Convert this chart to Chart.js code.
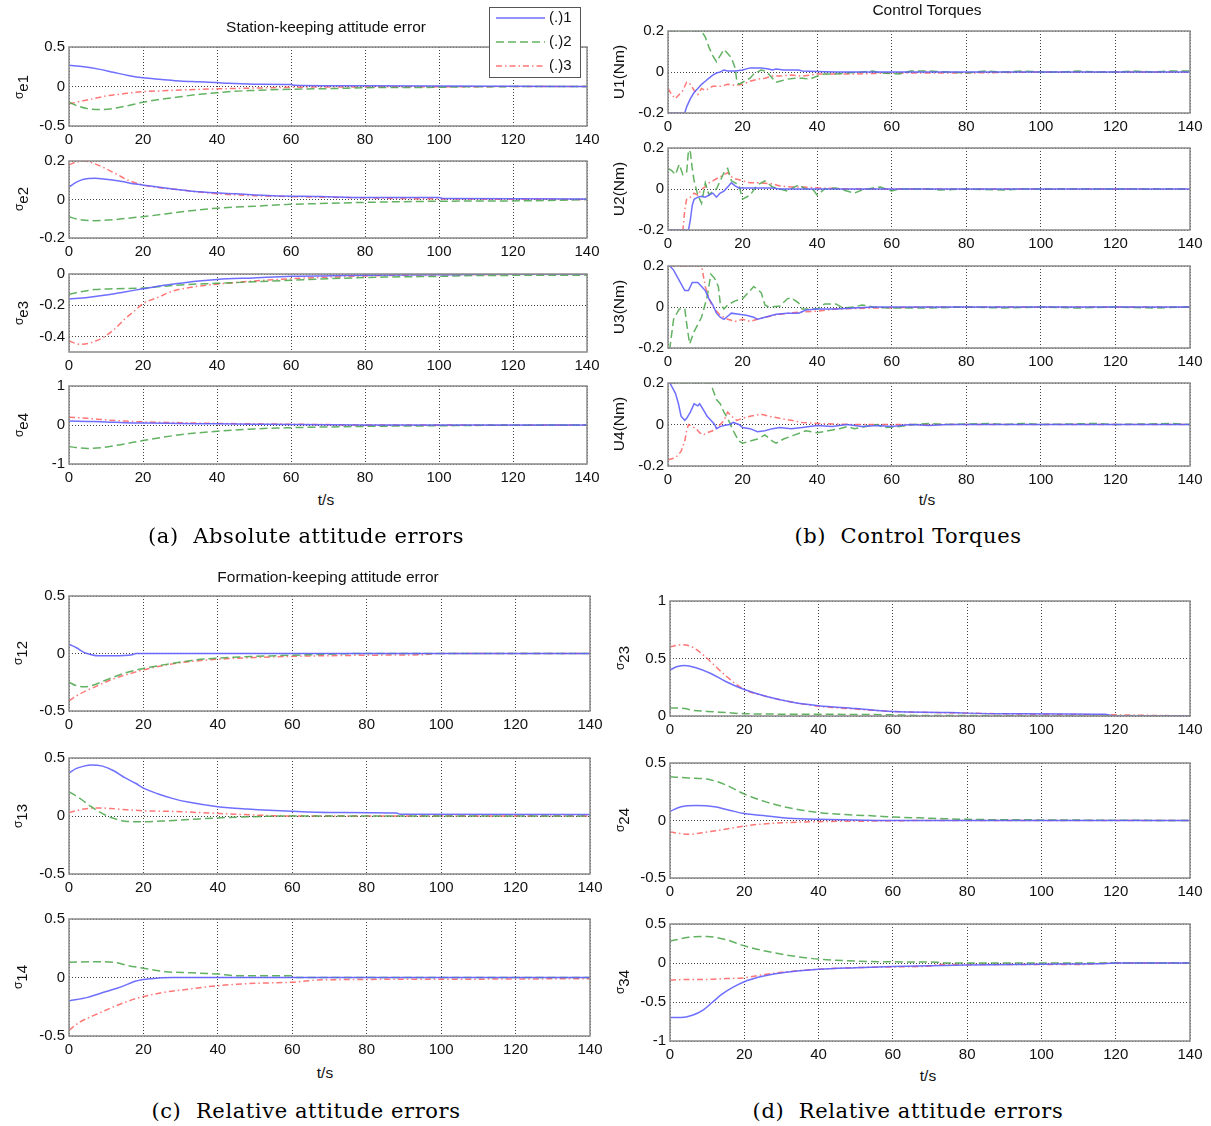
<!DOCTYPE html>
<html>
<head>
<meta charset="utf-8">
<script src="https://cdn.jsdelivr.net/npm/chart.js@4.4.0/dist/chart.umd.min.js"></script>
<style>
  body { margin: 0; background: #fff; width: 1211px; height: 1126px; position: relative; overflow: hidden;
         font-family: "Liberation Sans", Arial, sans-serif; }
  canvas { position: absolute; }
  .t { position: absolute; transform: translate(-50%, -50%); white-space: nowrap; color: #111; font-size: 15.5px; z-index: 2; }
  .cap { font-family: "DejaVu Serif", serif; font-size: 21px; letter-spacing: 0.6px; color: #000; }
  .yl { position: absolute; transform: translate(-50%, -50%) rotate(-90deg); white-space: nowrap;
        font-size: 15.5px; color: #111; z-index: 2; }
  .yl .s { font-size: 12px; }
  .yl sub { font-size: 15px; vertical-align: -5px; }
</style>
</head>
<body>
<div id="wrap"></div>

<div class="t" style="left:326px;top:27px">Station-keeping attitude error</div>
<div class="t" style="left:927px;top:10px">Control Torques</div>
<div class="t" style="left:328px;top:577px">Formation-keeping attitude error</div>
<div class="t" style="left:326px;top:500px">t/s</div>
<div class="t" style="left:927px;top:500px">t/s</div>
<div class="t" style="left:325px;top:1073px">t/s</div>
<div class="t" style="left:928px;top:1076px">t/s</div>
<div class="t cap" style="left:306px;top:536px">(a)&nbsp; Absolute attitude errors</div>
<div class="t cap" style="left:908px;top:536px">(b)&nbsp; Control Torques</div>
<div class="t cap" style="left:306px;top:1111px">(c)&nbsp; Relative attitude errors</div>
<div class="t cap" style="left:908px;top:1111px">(d)&nbsp; Relative attitude errors</div>

<script>
// ---- data: [t, value] pairs ----
const xTicks = [0, 20, 40, 60, 80, 100, 120, 140];
const seriesNames = ['(.)1', '(.)2', '(.)3'];

// (a) station-keeping attitude error
const se1_1 = [[0,0.27],[4,0.25],[8,0.22],[12,0.18],[16,0.14],[20,0.11],[25,0.09],[30,0.07],[35,0.06],[40,0.05],[43,0.04],[50,0.03],[60,0.025],[61,0.015],[70,0.01],[80,0.008],[100,0.005],[140,0]];
const se1_2 = [[0,-0.2],[2,-0.24],[5,-0.28],[9,-0.29],[13,-0.27],[17,-0.23],[20,-0.2],[25,-0.16],[30,-0.13],[35,-0.1],[40,-0.08],[45,-0.06],[50,-0.05],[60,-0.035],[72,-0.025],[80,-0.015],[100,-0.01],[105,-0.005],[140,0]];
const se1_3 = [[0,-0.22],[3,-0.19],[6,-0.16],[10,-0.12],[15,-0.09],[20,-0.065],[25,-0.055],[30,-0.045],[40,-0.03],[50,-0.02],[60,-0.01],[80,-0.005],[140,0]];

const se2_1 = [[0,0.065],[2,0.09],[4,0.105],[7,0.11],[10,0.105],[14,0.095],[18,0.08],[22,0.07],[28,0.055],[35,0.04],[45,0.03],[55,0.02],[68,0.015],[80,0.01],[100,0.01],[101,0.005],[140,0.003]];
const se2_2 = [[0,-0.09],[3,-0.105],[7,-0.11],[12,-0.105],[17,-0.095],[22,-0.085],[30,-0.065],[40,-0.045],[50,-0.035],[60,-0.025],[70,-0.02],[80,-0.015],[95,-0.01],[130,-0.005],[140,0]];
const se2_3 = [[0,0.18],[2,0.195],[4,0.2],[7,0.185],[10,0.16],[13,0.13],[16,0.1],[20,0.075],[25,0.06],[30,0.05],[40,0.03],[50,0.02],[60,0.015],[75,0.01],[90,0.005],[140,0]];

const se3_1 = [[0,-0.16],[5,-0.15],[10,-0.135],[15,-0.115],[20,-0.095],[25,-0.075],[30,-0.06],[35,-0.045],[40,-0.035],[50,-0.025],[60,-0.015],[75,-0.01],[100,-0.005],[120,0],[140,0]];
const se3_2 = [[0,-0.13],[3,-0.115],[7,-0.1],[12,-0.095],[20,-0.09],[25,-0.08],[30,-0.07],[40,-0.06],[50,-0.05],[60,-0.04],[70,-0.03],[85,-0.02],[100,-0.015],[110,-0.01],[140,-0.008]];
const se3_3 = [[0,-0.43],[3,-0.45],[6,-0.44],[9,-0.41],[12,-0.36],[15,-0.29],[18,-0.23],[20,-0.19],[24,-0.15],[28,-0.11],[33,-0.085],[40,-0.065],[50,-0.045],[60,-0.03],[70,-0.02],[85,-0.01],[100,-0.005],[140,0]];

const se4_1 = [[0,0.1],[5,0.09],[10,0.08],[15,0.06],[20,0.05],[30,0.04],[40,0.03],[50,0.02],[60,0.01],[80,0],[140,0]];
const se4_2 = [[0,-0.55],[2,-0.58],[5,-0.6],[9,-0.58],[13,-0.52],[17,-0.45],[20,-0.4],[25,-0.32],[30,-0.25],[35,-0.2],[40,-0.16],[50,-0.1],[60,-0.07],[70,-0.05],[85,-0.03],[100,-0.02],[110,-0.01],[140,0]];
const se4_3 = [[0,0.2],[5,0.17],[10,0.13],[15,0.1],[20,0.08],[30,0.06],[40,0.04],[50,0.03],[60,0.02],[70,0.01],[80,0],[140,0]];

// (b) control torques
const u1_1 = [[0,-0.2],[4.5,-0.2],[5,-0.17],[6,-0.13],[7,-0.1],[8,-0.08],[9,-0.06],[10,-0.045],[11,-0.03],[12,-0.015],[13,-0.005],[14,0],[15,0.01],[16,0.005],[18,0.005],[20,0.01],[22,0.02],[25,0.02],[27,0.015],[28,0.01],[29,0.015],[31,0.01],[35,0.01],[36,0.005],[40,0.003],[45,0],[140,0]];
const u1_2 = [[0,0.2],[9,0.2],[10,0.17],[11,0.12],[12,0.08],[13,0.05],[14,0.08],[15,0.11],[16,0.09],[17,0.07],[18,0.02],[18.5,-0.05],[19,-0.06],[20,-0.05],[21,-0.04],[22,-0.03],[23,-0.01],[24,0],[25,0.01],[26,0.005],[27,-0.01],[28,-0.03],[29,-0.05],[30,-0.045],[32,-0.035],[34,-0.03],[36,-0.03],[38,-0.035],[40,-0.02],[42,-0.01],[45,-0.01],[48,-0.005],[52,0],[55,0.005],[57,-0.005],[62,-0.01],[65,0.005],[70,0.005],[75,0],[80,-0.005],[85,0.005],[90,0],[95,0.005],[100,0],[105,0],[110,0.005],[115,0],[120,0],[125,0.005],[130,0],[135,0.005],[140,0.005]];
const u1_3 = [[0,-0.08],[1,-0.11],[2,-0.13],[3,-0.11],[4,-0.09],[5,-0.05],[6,-0.06],[7,-0.09],[8,-0.11],[9,-0.08],[10,-0.09],[11,-0.08],[12,-0.07],[14,-0.07],[16,-0.06],[18,-0.065],[20,-0.06],[22,-0.045],[24,-0.035],[26,-0.03],[28,-0.02],[30,-0.02],[33,-0.015],[36,-0.02],[40,-0.01],[50,-0.01],[60,-0.005],[80,-0.005],[100,0],[140,0]];

const u2_1 = [[0,-0.2],[5.5,-0.2],[6,-0.15],[6.5,-0.08],[7,-0.05],[8,-0.04],[9,-0.035],[10,-0.04],[11,-0.03],[12,-0.02],[13,-0.04],[14,-0.02],[15,-0.01],[16,0.01],[17,0.03],[18,0.015],[19,0.005],[20,0.005],[22,0.005],[25,0.005],[28,0.005],[30,0],[35,0],[140,0]];
const u2_2 = [[0,0.1],[1,0.09],[2,0.07],[3,0.12],[4,0.07],[5,0.08],[5.5,0.19],[6,0.18],[6.5,0.1],[7,0.04],[8,-0.03],[9,-0.07],[10,0.03],[11,-0.03],[12,-0.01],[13,0],[14,0.04],[15,0.08],[16,0.1],[17,0.04],[18,0.03],[19,0.02],[20,-0.05],[22,-0.03],[24,0.02],[26,0.04],[28,0.01],[30,0],[32,-0.01],[34,0.01],[35,0.02],[37,0],[39,-0.005],[40,-0.03],[42,0],[45,0.005],[48,-0.01],[50,-0.02],[52,-0.005],[55,0.005],[57,0.01],[60,-0.01],[62,0],[70,0],[73,-0.005],[80,0],[90,-0.005],[95,0],[100,0],[140,0]];
const u2_3 = [[0,-0.2],[4,-0.2],[4.5,-0.1],[5,-0.05],[6,-0.04],[7,-0.02],[8,-0.03],[9,0],[10,0.01],[11,0.03],[12,0.04],[13,0.05],[14,0.06],[15,0.07],[16,0.08],[17,0.06],[18,0.05],[20,0.04],[22,0.03],[25,0.03],[28,0.025],[30,0.015],[33,0.01],[36,0.01],[40,0.005],[45,0.002],[60,0],[140,0]];

const u3_1 = [[0,0.2],[0.5,0.2],[1.5,0.18],[3,0.13],[4.5,0.08],[5.5,0.08],[6.5,0.12],[8,0.12],[9,0.1],[10,0.08],[11,0.04],[12,0.01],[13,-0.03],[14,-0.05],[15,-0.06],[16,-0.045],[17,-0.03],[19,-0.035],[21,-0.04],[23,-0.05],[24,-0.06],[25,-0.055],[27,-0.045],[29,-0.035],[32,-0.03],[35,-0.03],[37,-0.015],[40,-0.01],[45,-0.01],[50,-0.005],[55,0],[140,0]];
const u3_2 = [[0,-0.2],[0.5,-0.2],[1.5,-0.06],[3,-0.01],[4.5,-0.01],[5,-0.08],[5.8,-0.18],[7,-0.12],[9,-0.05],[10.5,0.05],[11.5,0.16],[12.5,0.14],[13.5,0.1],[14,0.02],[15,-0.01],[16,0.01],[18,0.03],[20,0.04],[22,0.08],[23,0.1],[25,0.07],[26,0.01],[27,0],[30,0.005],[32,0.04],[33,0.045],[35,0.02],[36,-0.01],[40,-0.01],[42,0.015],[45,0.015],[47,-0.005],[50,0],[52,0.01],[55,0],[60,-0.005],[70,-0.005],[80,0],[90,-0.005],[100,0],[110,-0.005],[120,0],[130,-0.005],[140,0]];
const u3_3 = [[0,0.2],[9,0.2],[10,0.1],[11,0.04],[12,0],[14,-0.04],[16,-0.06],[18,-0.07],[20,-0.06],[22,-0.07],[24,-0.06],[26,-0.05],[30,-0.035],[35,-0.025],[40,-0.02],[45,-0.01],[55,-0.005],[70,0],[140,0]];

const u4_1 = [[0,0.2],[0.5,0.2],[2,0.15],[2.8,0.1],[3.5,0.04],[4.5,0.02],[5,0.03],[6,0.06],[7,0.1],[8,0.09],[8.5,0.1],[9.5,0.07],[10.5,0.04],[11.5,0.02],[12.5,0],[13,-0.02],[14,-0.01],[15,-0.005],[16.5,0],[17.5,0.01],[19,0],[20,-0.015],[22,-0.02],[24,-0.035],[26,-0.03],[28,-0.02],[30,-0.015],[33,-0.02],[36,-0.015],[40,-0.005],[44,-0.01],[48,0],[52,-0.01],[56,-0.005],[60,-0.01],[65,0],[70,-0.005],[75,0],[140,0]];
const u4_2 = [[0,0.2],[11.5,0.2],[12,0.17],[13,0.12],[14,0.1],[15,0.06],[16,0.03],[17.5,-0.03],[19,-0.08],[20,-0.09],[22,-0.08],[24,-0.07],[26,-0.05],[28,-0.08],[29,-0.09],[31,-0.07],[34,-0.05],[37,-0.03],[40,-0.04],[43,-0.03],[46,-0.02],[48,-0.01],[50,-0.02],[53,-0.01],[56,0],[58,-0.015],[62,-0.01],[66,0],[70,0.005],[75,0],[86,0.005],[90,0],[95,0.005],[100,0],[115,0.005],[120,0],[135,0.005],[140,0]];
const u4_3 = [[0,-0.17],[2,-0.16],[3.5,-0.13],[4.5,-0.08],[5,-0.03],[5.5,0],[6.5,-0.01],[7.5,-0.02],[8.5,-0.04],[9.5,-0.05],[10.5,-0.04],[12,-0.03],[13.5,-0.01],[15,0.02],[16,0.06],[17,0.04],[18.5,0.02],[20,0.03],[22,0.04],[25,0.05],[27,0.04],[30,0.03],[33,0.02],[36,0.01],[40,0.005],[50,0],[140,0]];

// (c) formation-keeping attitude error
const s12_1 = [[0,0.08],[2,0.05],[4,0.01],[6,-0.01],[8,-0.02],[12,-0.02],[17,-0.01],[18,0],[140,0]];
const s12_2 = [[0,-0.25],[2,-0.28],[4,-0.29],[6,-0.28],[10,-0.23],[15,-0.17],[20,-0.13],[27,-0.09],[33,-0.06],[40,-0.04],[50,-0.025],[60,-0.015],[80,0],[140,0]];
const s12_3 = [[0,-0.41],[3,-0.35],[7,-0.29],[12,-0.22],[18,-0.16],[23,-0.12],[30,-0.08],[40,-0.05],[50,-0.035],[60,-0.025],[80,-0.015],[95,-0.01],[100,0],[140,0]];

const s13_1 = [[0,0.37],[2,0.41],[4,0.43],[6,0.44],[9,0.43],[12,0.39],[15,0.33],[18,0.28],[20,0.24],[24,0.19],[28,0.15],[32,0.12],[40,0.08],[48,0.06],[60,0.04],[70,0.03],[88,0.025],[89,0.015],[140,0.012]];
const s13_2 = [[0,0.21],[3,0.15],[6,0.08],[9,0.02],[12,-0.02],[15,-0.045],[20,-0.05],[27,-0.04],[35,-0.025],[45,-0.01],[60,0],[140,0]];
const s13_3 = [[0,0.03],[4,0.06],[8,0.07],[13,0.06],[20,0.045],[27,0.04],[35,0.03],[45,0.015],[60,0],[140,0]];

const s14_1 = [[0,-0.2],[5,-0.17],[10,-0.12],[14,-0.08],[18,-0.03],[22,-0.01],[28,0],[140,0]];
const s14_2 = [[0,0.13],[6,0.135],[12,0.13],[16,0.1],[20,0.08],[26,0.05],[33,0.04],[40,0.03],[45,0.015],[60,0.015],[61,0],[140,0]];
const s14_3 = [[0,-0.45],[3,-0.38],[7,-0.32],[12,-0.25],[18,-0.18],[25,-0.13],[32,-0.1],[40,-0.07],[50,-0.05],[60,-0.04],[68,-0.02],[100,-0.015],[140,-0.01]];

// (d) relative attitude errors
const s23_1 = [[0,0.4],[2,0.43],[4,0.44],[7,0.42],[11,0.37],[15,0.3],[20,0.23],[26,0.17],[33,0.12],[40,0.09],[50,0.065],[55,0.05],[60,0.04],[75,0.03],[80,0.025],[90,0.02],[117,0.015],[120,0],[140,0]];
const s23_2 = [[0,0.07],[4,0.065],[6,0.05],[10,0.04],[15,0.03],[20,0.02],[40,0.015],[60,0.01],[66,0.005],[80,0.005],[100,0],[140,0]];
const s23_3 = [[0,0.6],[3,0.62],[6,0.6],[9,0.53],[12,0.44],[15,0.35],[20,0.23],[26,0.17],[33,0.12],[40,0.085],[50,0.06],[60,0.04],[80,0.025],[100,0.015],[120,0.01],[130,0.005],[140,0]];

const s24_1 = [[0,0.08],[3,0.12],[7,0.13],[12,0.12],[16,0.09],[20,0.06],[26,0.04],[32,0.02],[40,0.01],[50,0.005],[60,0],[140,0]];
const s24_2 = [[0,0.38],[5,0.37],[10,0.36],[15,0.31],[20,0.23],[26,0.16],[32,0.11],[40,0.07],[48,0.05],[55,0.04],[60,0.03],[70,0.02],[80,0.01],[100,0.005],[120,0.002],[140,0]];
const s24_3 = [[0,-0.1],[5,-0.12],[10,-0.1],[16,-0.07],[22,-0.04],[30,-0.02],[40,-0.01],[55,-0.005],[70,0],[140,0]];

const s34_1 = [[0,-0.7],[3,-0.7],[6,-0.67],[9,-0.6],[11.5,-0.5],[14,-0.4],[17,-0.31],[20,-0.24],[24,-0.18],[28,-0.14],[33,-0.11],[40,-0.08],[50,-0.06],[60,-0.045],[70,-0.035],[80,-0.025],[100,-0.015],[115,-0.01],[120,0],[140,0]];
const s34_2 = [[0,0.28],[5,0.33],[10,0.34],[15,0.3],[20,0.22],[26,0.15],[33,0.09],[40,0.05],[50,0.025],[60,0.015],[72,0.01],[75,0],[140,0]];
const s34_3 = [[0,-0.22],[5,-0.21],[10,-0.21],[15,-0.2],[20,-0.19],[25,-0.15],[30,-0.12],[40,-0.08],[50,-0.06],[60,-0.05],[70,-0.04],[72,-0.02],[110,-0.02],[115,-0.01],[120,0],[140,0]];

// ---- layout ----
const FONT = '"Liberation Sans", Arial, sans-serif';
const PAD_L = 46, PAD_R = 24, PAD_B = 24, PAD_T = 12;
const STYLES = [
  { borderColor: 'rgba(95,95,255,0.9)', borderDash: [] },
  { borderColor: 'rgba(70,165,70,0.85)', borderDash: [8, 4] },
  { borderColor: 'rgba(255,95,95,0.85)', borderDash: [6, 3, 1.5, 3] }
];

// plot boxes: left, top, right, bottom (page px)
const panels = [
  { box: [69, 47, 587, 126],  y: [-0.5, 0.5], yt: [-0.5, 0, 0.5], s: [se1_1, se1_2, se1_3], lab: 'σ|e1', lx: 20, smooth: true, legend: true, top: 0 },
  { box: [69, 160, 587, 238], y: [-0.2, 0.2], yt: [-0.2, 0, 0.2], s: [se2_1, se2_2, se2_3], lab: 'σ|e2', lx: 20, smooth: true },
  { box: [69, 273, 587, 352], y: [-0.5, 0],   yt: [-0.4, -0.2, 0], s: [se3_1, se3_2, se3_3], lab: 'σ|e3', lx: 20, smooth: true },
  { box: [69, 385, 587, 464], y: [-1, 1],     yt: [-1, 0, 1],     s: [se4_1, se4_2, se4_3], lab: 'σ|e4', lx: 20, smooth: true },
  { box: [668, 30, 1190, 113],  y: [-0.2, 0.2], yt: [-0.2, 0, 0.2], s: [u1_1, u1_2, u1_3], lab: 'U1(Nm)', lx: 619 },
  { box: [668, 147, 1190, 230], y: [-0.2, 0.2], yt: [-0.2, 0, 0.2], s: [u2_1, u2_2, u2_3], lab: 'U2(Nm)', lx: 619 },
  { box: [668, 265, 1190, 348], y: [-0.2, 0.2], yt: [-0.2, 0, 0.2], s: [u3_1, u3_2, u3_3], lab: 'U3(Nm)', lx: 619 },
  { box: [668, 382, 1190, 466], y: [-0.2, 0.2], yt: [-0.2, 0, 0.2], s: [u4_1, u4_2, u4_3], lab: 'U4(Nm)', lx: 619 },
  { box: [69, 595, 590, 711],  y: [-0.5, 0.5], yt: [-0.5, 0, 0.5], s: [s12_1, s12_2, s12_3], lab: 'σ|12', lx: 19, smooth: true },
  { box: [69, 757, 590, 874],  y: [-0.5, 0.5], yt: [-0.5, 0, 0.5], s: [s13_1, s13_2, s13_3], lab: 'σ|13', lx: 19, smooth: true },
  { box: [69, 918, 590, 1036], y: [-0.5, 0.5], yt: [-0.5, 0, 0.5], s: [s14_1, s14_2, s14_3], lab: 'σ|14', lx: 19, smooth: true },
  { box: [670, 600, 1190, 716], y: [0, 1],      yt: [0, 0.5, 1],      s: [s23_1, s23_2, s23_3], lab: 'σ|23', lx: 621, smooth: true },
  { box: [670, 762, 1190, 878], y: [-0.5, 0.5], yt: [-0.5, 0, 0.5],   s: [s24_1, s24_2, s24_3], lab: 'σ|24', lx: 621, smooth: true },
  { box: [670, 923, 1190, 1041], y: [-1, 0.5],  yt: [-1, -0.5, 0, 0.5], s: [s34_1, s34_2, s34_3], lab: 'σ|34', lx: 621, smooth: true }
];

// grey frame round the plot area
const boxPlugin = {
  id: 'box',
  afterDraw(chart) {
    const a = chart.chartArea, ctx = chart.ctx;
    ctx.save();
    ctx.strokeStyle = '#8a8a8a';
    ctx.lineWidth = 1.5;
    ctx.strokeRect(a.left, a.top, a.right - a.left, a.bottom - a.top);
    ctx.restore();
  }
};

// matlab-like legend box, page coords converted to canvas coords
function legendPlugin(offX, offY) {
  return {
    id: 'lg',
    afterDraw(chart) {
      const ctx = chart.ctx;
      const x0 = 489 - offX, y0 = 7 - offY, w = 91, h = 70;
      ctx.save();
      ctx.fillStyle = '#fff';
      ctx.fillRect(x0, y0, w, h);
      ctx.strokeStyle = '#555';
      ctx.lineWidth = 1;
      ctx.strokeRect(x0 + 0.5, y0 + 0.5, w, h);
      chart.data.datasets.forEach((ds, i) => {
        const yy = y0 + 11 + i * 24;
        ctx.strokeStyle = ds.borderColor;
        ctx.lineWidth = 1.5;
        ctx.setLineDash(ds.borderDash);
        ctx.beginPath();
        ctx.moveTo(x0 + 7, yy);
        ctx.lineTo(x0 + 56, yy);
        ctx.stroke();
        ctx.setLineDash([]);
        ctx.fillStyle = '#111';
        ctx.font = '15px ' + FONT;
        ctx.textBaseline = 'middle';
        ctx.fillText(ds.label, x0 + 60, yy);
      });
      ctx.restore();
    }
  };
}

const wrap = document.getElementById('wrap');

panels.forEach((p, idx) => {
  const [l, t, r, b] = p.box;
  const padT = p.top === 0 ? t : PAD_T;
  const cx = l - PAD_L, cy = t - padT;
  const W = (r - l) + PAD_L + PAD_R, H = (b - t) + padT + PAD_B;

  const cv = document.createElement('canvas');
  cv.width = W; cv.height = H;
  cv.style.left = cx + 'px'; cv.style.top = cy + 'px';
  cv.style.width = W + 'px'; cv.style.height = H + 'px';
  wrap.appendChild(cv);

  // y-axis label
  const lb = document.createElement('div');
  lb.className = 'yl';
  lb.style.left = p.lx + 'px';
  lb.style.top = ((t + b) / 2) + 'px';
  if (p.lab.includes('|')) {
    const [g, sub] = p.lab.split('|');
    lb.innerHTML = '<span class="s">' + g + '</span><sub>' + sub + '</sub>';
  } else {
    lb.textContent = p.lab;
  }
  document.body.appendChild(lb);

  const tickFont = { family: FONT, size: 15 };
  const plugins = [boxPlugin];
  if (p.legend) plugins.push(legendPlugin(cx, cy));

  new Chart(cv, {
    type: 'line',
    data: {
      datasets: p.s.map((pts, i) => ({
        label: seriesNames[i],
        data: pts.map(q => ({ x: q[0], y: q[1] })),
        borderColor: STYLES[i].borderColor,
        borderDash: STYLES[i].borderDash,
        borderWidth: 1.5,
        pointRadius: 0,
        fill: false,
        cubicInterpolationMode: p.smooth ? 'monotone' : 'default',
        tension: 0
      }))
    },
    options: {
      responsive: false,
      animation: false,
      devicePixelRatio: 1,
      layout: { padding: { top: padT, right: PAD_R, left: 0, bottom: 0 } },
      plugins: { legend: { display: false }, tooltip: { enabled: false }, title: { display: false } },
      scales: {
        x: {
          type: 'linear', min: 0, max: 140,
          afterBuildTicks: s => { s.ticks = xTicks.map(v => ({ value: v })); },
          afterFit: s => { s.height = PAD_B; },
          ticks: { font: tickFont, color: '#111', padding: 5, maxRotation: 0, autoSkip: false, callback: v => String(v) },
          grid: { color: '#444', lineWidth: 1, drawTicks: false },
          border: { display: false, dash: [1, 2] }
        },
        y: {
          type: 'linear', min: p.y[0], max: p.y[1],
          afterBuildTicks: s => { s.ticks = p.yt.map(v => ({ value: v })); },
          afterFit: s => { s.width = PAD_L; },
          ticks: { font: tickFont, color: '#111', padding: 4, autoSkip: false, callback: v => String(v) },
          grid: { color: '#444', lineWidth: 1, drawTicks: false },
          border: { display: false, dash: [1, 2] }
        }
      }
    },
    plugins: plugins
  });
});
</script>
</body>
</html>
